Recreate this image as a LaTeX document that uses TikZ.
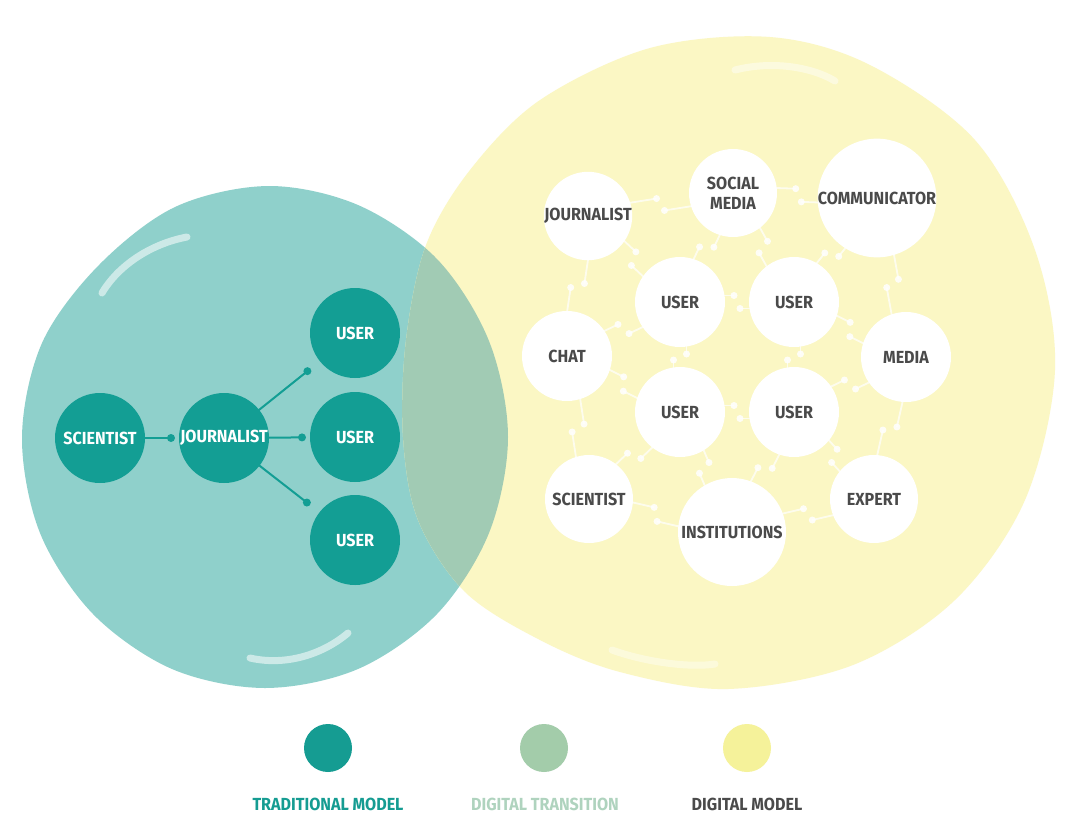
\documentclass[tikz,border=0pt]{standalone}
\usepackage{fontspec}
\setmainfont{Fira Sans}[FakeStretch=0.92]
\usetikzlibrary{calc}
\pgfdeclarelayer{blobs}\pgfdeclarelayer{edges}
\pgfsetlayers{blobs,edges,main}
\definecolor{tealdark}{HTML}{139E94}
\definecolor{teallight}{HTML}{8FD0CB}
\definecolor{yel}{HTML}{FBF7C4}
\definecolor{overlapc}{HTML}{A1CBB4}
\definecolor{txtgrey}{HTML}{4A4A4A}
\definecolor{legteal}{HTML}{159C92}
\definecolor{legsage}{HTML}{A3CCAA}
\definecolor{legyel}{HTML}{F5F29A}
\definecolor{legsagetxt}{HTML}{AFD3BE}
\tikzset{
 lab/.style={font=\bfseries\fontsize{17.5}{20}\selectfont},
 tnode/.style={lab, circle, fill=tealdark, text=white, inner sep=0pt, minimum size=90pt},
 wnode/.style={lab, circle, fill=white, text=txtgrey, inner sep=0pt, align=center},
 tline/.style={draw=tealdark, line width=2pt},
 tdot/.style={circle, fill=tealdark, inner sep=0pt, minimum size=8pt},
 wline/.style={draw=white, draw opacity=0.7, line width=1.8pt},
 wdot/.style={circle, fill=white, fill opacity=0.85, inner sep=0pt, minimum size=7pt},
 shine/.style={draw=white, line width=7pt, line cap=round, draw opacity=0.55},
 legdot/.style={circle, inner sep=0pt, minimum size=48pt},
 tealpath/.style={insert path={plot[smooth cycle, tension=0.55] coordinates {(508,437) (489,341) (437,259) (358,205) (268,186) (175,207) (98,266) (42,343) (22,437) (40,533) (93,614) (172,669) (265,688) (358,669) (437,614) (489,533)}}},
 yelpath/.style={insert path={plot[smooth cycle, tension=0.55] coordinates {(1055,370) (1035,250) (975,140) (870,65) (770,37) (650,48) (540,100) (470,170) (426,245) (406,340) (403,437) (418,520) (465,592) (540,640) (620,672) (728,689) (853,665) (955,600) (1025,500)}}}
}
\newcommand\tconn[3]{%
 \draw[tline] (#1.center) -- ($(#2.center)!#3!(#1.center)$) node[tdot]{};}
\newcommand\wconn[4]{%
 \draw[wline] let \p1=(#1.center), \p2=(#2.center), \n1={veclen(\x2-\x1,\y2-\y1)}, \n2={(#3+\n1-#4)/2} in
   ($(#1.center)!6.5pt!90:(#2.center)$) -- ($(#1.center)!\n2-3pt!(#2.center)!6.5pt!90:(#2.center)$) node[wdot]{}
   ($(#2.center)!6.5pt!90:(#1.center)$) -- ($(#2.center)!\n1-\n2-3pt!(#1.center)!6.5pt!90:(#1.center)$) node[wdot]{};}
\begin{document}
\begin{tikzpicture}[x=1pt,y=-1pt]
\useasboundingbox (0,0) rectangle (1068,831);
\begin{pgfonlayer}{blobs}
 \fill[white] (0,0) rectangle (1068,831);
 \fill[teallight, tealpath];
 \fill[yel, yelpath];
 \begin{scope}
  \clip[tealpath];
  \fill[overlapc, yelpath];
 \end{scope}
 \draw[shine] (102,293) .. controls (118,266) and (150,244) .. (187,237);
 \draw[shine] (250,658) .. controls (285,666) and (322,655) .. (348,633);
 \draw[shine, draw opacity=0.45] (735,70) .. controls (770,61) and (810,66) .. (835,81);
 \draw[shine, draw opacity=0.4] (612,650) .. controls (645,662) and (690,668) .. (715,664);
\end{pgfonlayer}
% left cluster
\node[tnode] (lsci) at (100,438) {SCIENTIST};
\node[tnode] (ljou) at (224,438) {JOURNALIST};
\node[tnode] (lu1) at (355,333) {USER};
\node[tnode] (lu2) at (355,437) {USER};
\node[tnode] (lu3) at (355,540) {USER};
\begin{pgfonlayer}{edges}
 \tconn{lsci}{ljou}{53pt}
 \tconn{ljou}{lu2}{53pt}
 \tconn{ljou}{lu1}{61pt}
 \tconn{ljou}{lu3}{61pt}
\end{pgfonlayer}
% right cluster
\node[wnode, minimum size=88pt] (rjou) at (588,216) {JOURNALIST};
\node[wnode, minimum size=88pt] (rsoc) at (733,193) {SOCIAL\\MEDIA};
\node[wnode, minimum size=114pt] (rcom) at (877,198) {COMMUNICATOR};
\node[wnode, minimum size=90pt] (ru1) at (680,302) {USER};
\node[wnode, minimum size=90pt] (ru2) at (794,302) {USER};
\node[wnode, minimum size=90pt] (ru3) at (680,412) {USER};
\node[wnode, minimum size=90pt] (ru4) at (794,412) {USER};
\node[wnode, minimum size=90pt] (rcha) at (567,356) {CHAT};
\node[wnode, minimum size=90pt] (rmed) at (906,357) {MEDIA};
\node[wnode, minimum size=88pt] (rsci) at (589,499) {SCIENTIST};
\node[wnode, minimum size=108pt] (rins) at (732,532) {INSTITUTIONS};
\node[wnode, minimum size=88pt] (rexp) at (874,499) {EXPERT};
\begin{pgfonlayer}{edges}
 \wconn{rjou}{rsoc}{44pt}{44pt}
 \wconn{rsoc}{rcom}{44pt}{57pt}
 \wconn{rjou}{ru1}{44pt}{45pt}
 \wconn{rsoc}{ru1}{44pt}{45pt}
 \wconn{rsoc}{ru2}{44pt}{45pt}
 \wconn{rcom}{ru2}{57pt}{45pt}
 \wconn{ru1}{ru2}{45pt}{45pt}
 \wconn{rjou}{rcha}{44pt}{45pt}
 \wconn{rcom}{rmed}{57pt}{45pt}
 \wconn{rcha}{ru1}{45pt}{45pt}
 \wconn{ru2}{rmed}{45pt}{45pt}
 \wconn{ru1}{ru3}{45pt}{45pt}
 \wconn{ru2}{ru4}{45pt}{45pt}
 \wconn{rcha}{ru3}{45pt}{45pt}
 \wconn{rmed}{ru4}{45pt}{45pt}
 \wconn{ru3}{ru4}{45pt}{45pt}
 \wconn{rcha}{rsci}{45pt}{44pt}
 \wconn{rmed}{rexp}{45pt}{44pt}
 \wconn{rsci}{ru3}{44pt}{45pt}
 \wconn{ru4}{rexp}{45pt}{44pt}
 \wconn{ru3}{rins}{45pt}{54pt}
 \wconn{ru4}{rins}{45pt}{54pt}
 \wconn{rsci}{rins}{44pt}{54pt}
 \wconn{rins}{rexp}{54pt}{44pt}
\end{pgfonlayer}
% legend
\node[legdot, fill=legteal] (lg1) at (328,748) {};
\node[legdot, fill=legsage] (lg2) at (544,748) {};
\node[legdot, fill=legyel] (lg3) at (747,748) {};
\node[lab, text=legteal] (lt1) at (328,804) {TRADITIONAL MODEL};
\node[lab, text=legsagetxt] (lt2) at (545,804) {DIGITAL TRANSITION};
\node[lab, text=txtgrey] (lt3) at (747,804) {DIGITAL MODEL};
\end{tikzpicture}
\end{document}
